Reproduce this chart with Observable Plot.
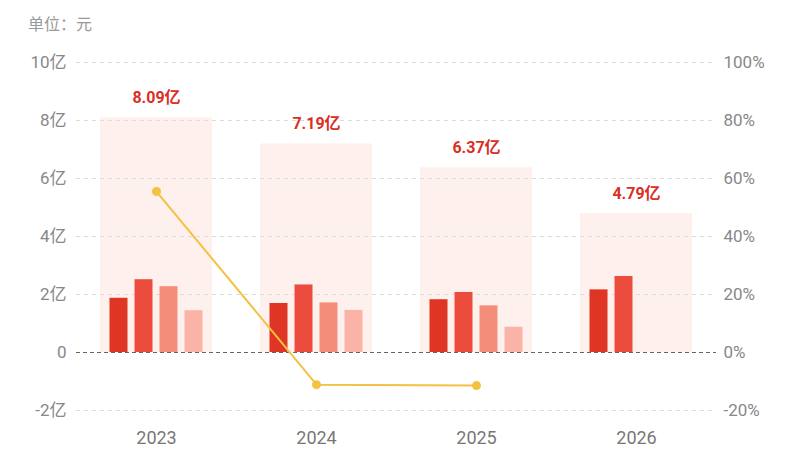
<!DOCTYPE html>
<html>
<head>
<meta charset="utf-8">
<script src="https://cdn.jsdelivr.net/npm/d3@7"></script>
<script src="https://cdn.jsdelivr.net/npm/@observablehq/plot@0.6"></script>
<style>
  body { margin: 0; background: #fff; width: 800px; height: 450px; overflow: hidden; }
  #unit { height: 40px; line-height: 46px; padding-left: 28px; font-size: 16px; color: #999;
          font-family: "Noto Sans CJK SC", "Noto Sans", sans-serif; }
</style>
</head>
<body>
<div id="unit">单位：元</div>
<div id="chart"></div>
<script>
const years = ["2023", "2024", "2025", "2026"];
const totals = [8.09, 7.19, 6.37, 4.79];          // 亿
const quarters = ["Q1", "Q2", "Q3", "Q4"];
const q1 = [1.87, 1.69, 1.82, 2.16];
const q2 = [2.51, 2.33, 2.07, 2.62];
const q3 = [2.27, 1.71, 1.61, null];
const q4 = [1.44, 1.45, 0.87, null];
const growth = [55.5, -11.1, -11.4, null];         // %
const yTicks = [-2, 0, 2, 4, 6, 8, 10];
const leftTickLabels = ["-2亿", "0", "2亿", "4亿", "6亿", "8亿", "10亿"];
const rightTickLabels = ["-20%", "0%", "20%", "40%", "60%", "80%", "100%"];

const quarterColors = ["#de3524", "#ec4c3d", "#f48e7b", "#fab3a6"];
const qSeries = [q1, q2, q3, q4];

const totalData = years.map((y, i) => ({year: y, total: totals[i]}));
const growthData = years.map((y, i) => ({year: y, growth: growth[i]})).filter(d => d.growth != null);

const font = "Roboto, 'Noto Sans CJK SC', sans-serif";

const quarterMarks = qSeries.map((vals, qi) =>
  Plot.barY(
    years.map((y, i) => ({year: y, quarter: quarters[qi], value: vals[i]})).filter(d => d.value != null),
    {x: "year", y: "value", fill: quarterColors[qi], insetLeft: 47, insetRight: 47, dx: (qi - 1.5) * 25}
  )
);

const chart = Plot.plot({
  width: 800,
  height: 410,
  marginTop: 22,
  marginBottom: 40,
  marginLeft: 76,
  marginRight: 84,
  style: {fontFamily: font, background: "#fff"},
  x: {domain: years, paddingInner: 0.3, paddingOuter: 0.15, label: null},
  y: {domain: [-2, 10], label: null},
  marks: [
    Plot.barY(totalData, {x: "year", y: "total", fill: "#fef0ec"}),
    Plot.ruleY(yTicks.filter(t => t !== 0), {stroke: "#dcdcdc", strokeDasharray: "4,4", strokeWidth: 1}),
    ...quarterMarks,
    Plot.ruleY([0], {stroke: "#666", strokeDasharray: "4,3", strokeWidth: 1}),
    Plot.line(growthData, {x: "year", y: d => d.growth / 10, stroke: "#f2c240", strokeWidth: 2}),
    Plot.dot(growthData, {x: "year", y: d => d.growth / 10, r: 4.5, fill: "#f2c240", stroke: "none"}),
    Plot.text(totalData, {x: "year", y: "total", text: d => d.total.toFixed(2) + "亿", dy: -20,
      fill: "#d9301f", fontWeight: "bold", fontSize: 16}),
    Plot.axisY({ticks: yTicks, tickFormat: d => leftTickLabels[yTicks.indexOf(d)], tickSize: 0,
      tickPadding: 10, fontSize: 17, fill: "#888", label: null}),
    Plot.axisY({anchor: "right", ticks: yTicks, tickFormat: d => rightTickLabels[yTicks.indexOf(d)], tickSize: 0,
      tickPadding: 7, fontSize: 17, fill: "#888", label: null}),
    Plot.axisX({tickSize: 0, tickPadding: 21, fontSize: 18, fill: "#777", label: null})
  ]
});
document.getElementById("chart").appendChild(chart);
</script>
</body>
</html>
